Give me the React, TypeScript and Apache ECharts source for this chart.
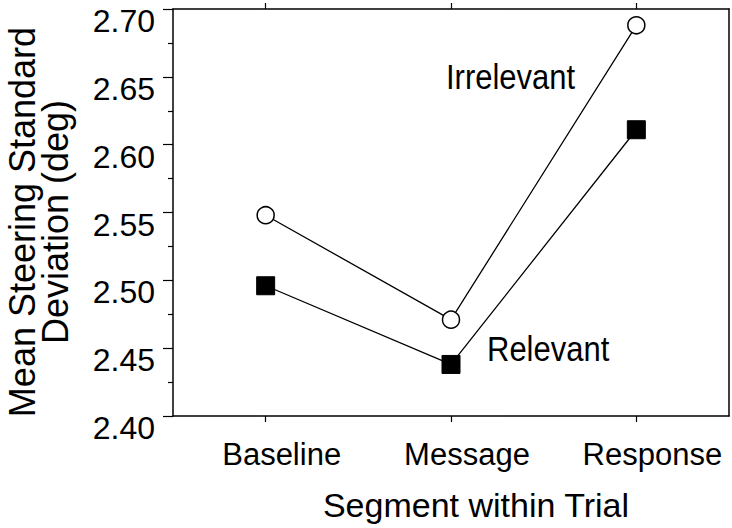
import React, { useEffect, useRef } from "react";
import * as echarts from "echarts";

const categories = ["Baseline", "Message", "Response"];
const irrelevant = [2.548, 2.471, 2.688];
const relevant = [2.496, 2.438, 2.611];
const yMin = 2.4;
const yMax = 2.7;
const yStep = 0.05;
const FONT = "'Liberation Sans', Arial, Helvetica, sans-serif";

export default function App() {
  const ref = useRef<HTMLDivElement>(null);
  useEffect(() => {
    if (!ref.current) return;
    const chart = echarts.init(ref.current, null, { renderer: "svg" });
    const axisLine = { show: true, lineStyle: { color: "#000", width: 1.5 } };
    chart.setOption({
      animation: false,
      backgroundColor: "#fff",
      grid: { left: 173, top: 9, right: 3, bottom: 112, containLabel: false },
      xAxis: [
        {
          type: "category",
          data: categories,
          position: "bottom",
          boundaryGap: true,
          axisLine,
          axisTick: { show: true, alignWithLabel: true, length: 6, lineStyle: { color: "#000", width: 1.2 } },
          axisLabel: { color: "#000", fontSize: 31, fontFamily: FONT, margin: 23, padding: [0, 0, 0, 32] },
          splitLine: { show: false },
          name: "Segment within Trial",
          nameLocation: "middle",
          nameGap: 72,
          nameTextStyle: { color: "#000", fontSize: 34, fontFamily: FONT, padding: [0, 0, 0, 50] },
        },
        {
          type: "category",
          data: categories,
          position: "top",
          boundaryGap: true,
          axisLine,
          axisTick: { show: true, alignWithLabel: true, length: 6, lineStyle: { color: "#000", width: 1.2 } },
          axisLabel: { show: false },
          splitLine: { show: false },
        },
      ],
      yAxis: [
        {
          type: "value",
          min: yMin,
          max: yMax,
          interval: yStep,
          position: "left",
          axisLine,
          axisTick: { show: true, length: 10, lineStyle: { color: "#000", width: 1.2 } },
          minorTick: { show: true, splitNumber: 2, length: 5, lineStyle: { color: "#000", width: 1.2 } },
          axisLabel: {
            color: "#000",
            fontSize: 32,
            fontFamily: FONT,
            margin: 18,
            verticalAlign: "top",
            padding: [-4, 0, 0, 0],
            formatter: (v: number) => v.toFixed(2),
          },
          splitLine: { show: false },
        },
        {
          type: "value",
          min: yMin,
          max: yMax,
          interval: yStep,
          position: "right",
          axisLine,
          axisTick: { show: false },
          axisLabel: { show: false },
          splitLine: { show: false },
        },
      ],
      graphic: [
        {
          type: "text",
          x: 39,
          y: 222,
          rotation: Math.PI / 2,
          style: {
            text: "Mean Steering Standard\nDeviation (deg)",
            fontSize: 36,
            fontFamily: FONT,
            fill: "#000",
            align: "center",
            verticalAlign: "middle",
            lineHeight: 33,
          },
        },
        {
          type: "text",
          x: 446,
          y: 77,
          scaleY: 1.15,
          style: { text: "Irrelevant", fontSize: 31, fontFamily: FONT, fill: "#000", verticalAlign: "middle" },
        },
        {
          type: "text",
          x: 487,
          y: 349,
          scaleY: 1.15,
          style: { text: "Relevant", fontSize: 31, fontFamily: FONT, fill: "#000", verticalAlign: "middle" },
        },
      ],
      series: [
        {
          name: "Irrelevant",
          type: "line",
          data: irrelevant,
          symbol: "circle",
          symbolSize: 17,
          showAllSymbol: true,
          lineStyle: { color: "#000", width: 1.3 },
          itemStyle: { color: "#fff", borderColor: "#000", borderWidth: 1.5 },
          z: 3,
        },
        {
          name: "Relevant",
          type: "line",
          data: relevant,
          symbol: "rect",
          symbolSize: 18,
          lineStyle: { color: "#000", width: 1.3 },
          itemStyle: { color: "#000", borderColor: "#000" },
          z: 3,
        },
      ],
    });
    return () => chart.dispose();
  }, []);
  return <div ref={ref} style={{ width: 732, height: 528, position: "absolute", left: 0, top: 0 }} />;
}
